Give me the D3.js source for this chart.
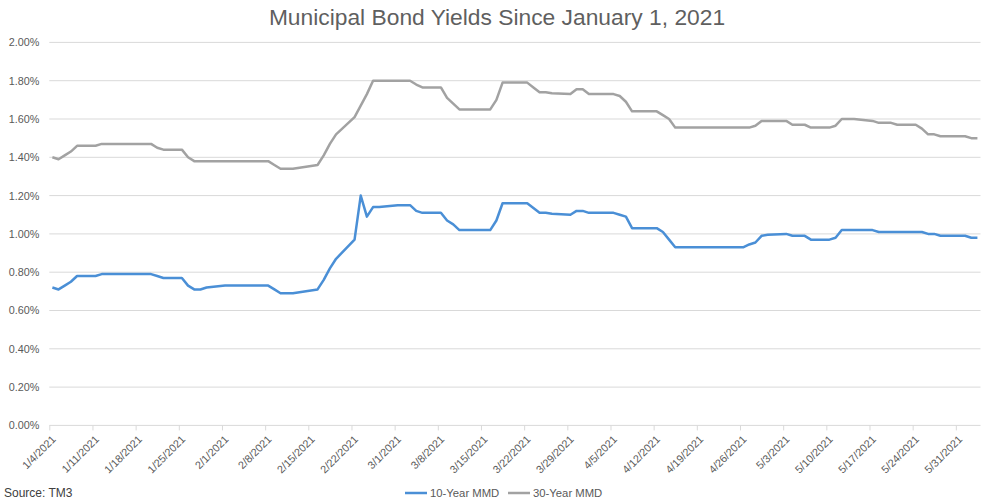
<!DOCTYPE html>
<html>
<head>
<meta charset="utf-8">
<script src="https://cdn.jsdelivr.net/npm/d3@7"></script>
<style>
  html, body { margin: 0; padding: 0; background: #fff; }
  svg { display: block; font-family: "Liberation Sans", Arial, sans-serif; }
</style>
</head>
<body>
<svg id="chart" width="994" height="500"></svg>
<script>
// ---------------- DATA ----------------
const dates = [
  "1/4/2021","1/5/2021","1/6/2021","1/7/2021","1/8/2021",
  "1/11/2021","1/12/2021","1/13/2021","1/14/2021","1/15/2021",
  "1/19/2021","1/20/2021","1/21/2021","1/22/2021",
  "1/25/2021","1/26/2021","1/27/2021","1/28/2021","1/29/2021",
  "2/1/2021","2/2/2021","2/3/2021","2/4/2021","2/5/2021",
  "2/8/2021","2/9/2021","2/10/2021","2/11/2021","2/12/2021",
  "2/16/2021","2/17/2021","2/18/2021","2/19/2021",
  "2/22/2021","2/23/2021","2/24/2021","2/25/2021","2/26/2021",
  "3/1/2021","3/2/2021","3/3/2021","3/4/2021","3/5/2021",
  "3/8/2021","3/9/2021","3/10/2021","3/11/2021","3/12/2021",
  "3/15/2021","3/16/2021","3/17/2021","3/18/2021","3/19/2021",
  "3/22/2021","3/23/2021","3/24/2021","3/25/2021","3/26/2021",
  "3/29/2021","3/30/2021","3/31/2021","4/1/2021","4/2/2021",
  "4/5/2021","4/6/2021","4/7/2021","4/8/2021","4/9/2021",
  "4/12/2021","4/13/2021","4/14/2021","4/15/2021","4/16/2021",
  "4/19/2021","4/20/2021","4/21/2021","4/22/2021","4/23/2021",
  "4/26/2021","4/27/2021","4/28/2021","4/29/2021","4/30/2021",
  "5/3/2021","5/4/2021","5/5/2021","5/6/2021","5/7/2021",
  "5/10/2021","5/11/2021","5/12/2021","5/13/2021","5/14/2021",
  "5/17/2021","5/18/2021","5/19/2021","5/20/2021","5/21/2021",
  "5/24/2021","5/25/2021","5/26/2021","5/27/2021","5/28/2021",
  "6/1/2021","6/2/2021","6/3/2021"
];

const yield10 = [
  0.72,0.71,0.73,0.75,0.78,
  0.78,0.79,0.79,0.79,0.79,
  0.79,0.79,0.78,0.77,
  0.77,0.73,0.71,0.71,0.72,
  0.73,0.73,0.73,0.73,0.73,
  0.73,0.71,0.69,0.69,0.69,
  0.71,0.76,0.82,0.87,
  0.97,1.20,1.09,1.14,1.14,
  1.15,1.15,1.15,1.12,1.11,
  1.11,1.07,1.05,1.02,1.02,
  1.02,1.02,1.07,1.16,1.16,
  1.16,1.135,1.11,1.11,1.105,
  1.10,1.12,1.12,1.11,1.11,
  1.11,1.10,1.09,1.03,1.03,
  1.03,1.01,0.97,0.93,0.93,
  0.93,0.93,0.93,0.93,0.93,
  0.93,0.945,0.955,0.99,0.995,
  1.00,0.99,0.99,0.99,0.97,
  0.97,0.98,1.02,1.02,1.02,
  1.02,1.01,1.01,1.01,1.01,
  1.01,1.01,1.00,1.00,0.99,
  0.99,0.98,0.98
];

const yield30 = [
  1.40,1.39,1.41,1.43,1.46,
  1.46,1.47,1.47,1.47,1.47,
  1.47,1.47,1.45,1.44,
  1.44,1.40,1.38,1.38,1.38,
  1.38,1.38,1.38,1.38,1.38,
  1.38,1.36,1.34,1.34,1.34,
  1.36,1.41,1.47,1.52,
  1.61,1.67,1.73,1.80,1.80,
  1.80,1.80,1.80,1.78,1.765,
  1.765,1.71,1.68,1.65,1.65,
  1.65,1.65,1.70,1.79,1.79,
  1.79,1.765,1.74,1.74,1.735,
  1.73,1.755,1.755,1.73,1.73,
  1.73,1.72,1.69,1.64,1.64,
  1.64,1.62,1.60,1.555,1.555,
  1.555,1.555,1.555,1.555,1.555,
  1.555,1.555,1.565,1.59,1.59,
  1.59,1.57,1.57,1.57,1.555,
  1.555,1.565,1.60,1.60,1.60,
  1.59,1.58,1.58,1.58,1.57,
  1.57,1.55,1.52,1.52,1.51,
  1.51,1.50,1.50
];

const weekLabels = [
  "1/4/2021","1/11/2021","1/18/2021","1/25/2021","2/1/2021","2/8/2021",
  "2/15/2021","2/22/2021","3/1/2021","3/8/2021","3/15/2021","3/22/2021",
  "3/29/2021","4/5/2021","4/12/2021","4/19/2021","4/26/2021","5/3/2021",
  "5/10/2021","5/17/2021","5/24/2021","5/31/2021"
];
const yTicks = [0, 0.2, 0.4, 0.6, 0.8, 1.0, 1.2, 1.4, 1.6, 1.8, 2.0];
const axisStart = "1/4/2021";
const axisEnd = "6/4/2021";
const seriesNames = ["10-Year MMD", "30-Year MMD"];
const seriesColors = ["#4a8fd6", "#a2a2a2"];
const titleText = "Municipal Bond Yields Since January 1, 2021";
const sourceText = "Source: TM3";

// ---------------- CHART ----------------
(function () {
const parse = d3.utcParse("%m/%d/%Y");
const halfDay = 12 * 3600 * 1000;
const svg = d3.select("#chart");

const plotL = 49.3, plotR = 980.5, plotT = 42.4, plotB = 425.4;

const x = d3.scaleUtc()
  .domain([parse(axisStart), parse(axisEnd)])
  .range([plotL, plotR]);
const y = d3.scaleLinear().domain([0, 2]).range([plotB, plotT]);

// gridlines
svg.append("g")
  .selectAll("line")
  .data(yTicks)
  .join("line")
  .attr("x1", plotL).attr("x2", plotR)
  .attr("y1", d => y(d)).attr("y2", d => y(d))
  .attr("stroke", "#d9d9d9").attr("stroke-width", 1);

// y labels
const yAxis = d3.axisLeft(y).tickValues(yTicks)
  .tickFormat(d => d3.format(".2f")(d) + "%").tickSize(0).tickPadding(10);
svg.append("g")
  .attr("transform", `translate(${plotL},0)`)
  .call(yAxis)
  .call(g => g.select(".domain").remove())
  .call(g => g.selectAll("text")
    .attr("fill", "#595959")
    .attr("font-size", "10.8px")
    .attr("font-family", "Liberation Sans, Arial, sans-serif"));

// x axis ticks and labels
const tickDates = weekLabels.map(parse);
const xAxis = d3.axisBottom(x).tickValues(tickDates).tickSize(5)
  .tickFormat((d, i) => weekLabels[i]);
svg.append("g")
  .attr("transform", `translate(0,${plotB})`)
  .call(xAxis)
  .call(g => g.select(".domain").remove())
  .call(g => g.selectAll(".tick line").attr("stroke", "#d9d9d9"))
  .call(g => g.selectAll("text")
    .attr("fill", "#595959")
    .attr("font-size", "10.8px")
    .attr("font-family", "Liberation Sans, Arial, sans-serif")
    .attr("text-anchor", "end")
    .attr("dy", "0.35em")
    .attr("y", 0)
    .attr("transform", "translate(4,12) rotate(-45)"));

// lines
const line = d3.line()
  .x(d => x(new Date(parse(d.date).getTime() + halfDay)))
  .y(d => y(d.value));

[yield10, yield30].forEach((vals, si) => {
  const data = dates.map((dt, i) => ({ date: dt, value: vals[i] }));
  svg.append("path")
    .datum(data)
    .attr("fill", "none")
    .attr("stroke", seriesColors[si])
    .attr("stroke-width", 2.5)
    .attr("stroke-linejoin", "round")
    .attr("d", line);
});

// title
svg.append("text")
  .attr("x", 497).attr("y", 25)
  .attr("text-anchor", "middle")
  .attr("font-size", "22.8px")
  .attr("fill", "#5f5f5f")
  .text(titleText);

// source
svg.append("text")
  .attr("x", 4).attr("y", 497)
  .attr("font-size", "12px")
  .attr("fill", "#404040")
  .text(sourceText);

// legend
const legendX = [405, 508];
seriesNames.forEach((name, i) => {
  const g = svg.append("g").attr("transform", `translate(${legendX[i]},493)`);
  g.append("line").attr("x1", 0).attr("x2", 22).attr("y1", 0).attr("y2", 0)
    .attr("stroke", seriesColors[i]).attr("stroke-width", 2.5);
  g.append("text").attr("x", 25).attr("y", 0).attr("dy", "0.35em")
    .attr("font-size", "11.3px").attr("fill", "#595959").text(name);
});
})();
</script>
</body>
</html>
